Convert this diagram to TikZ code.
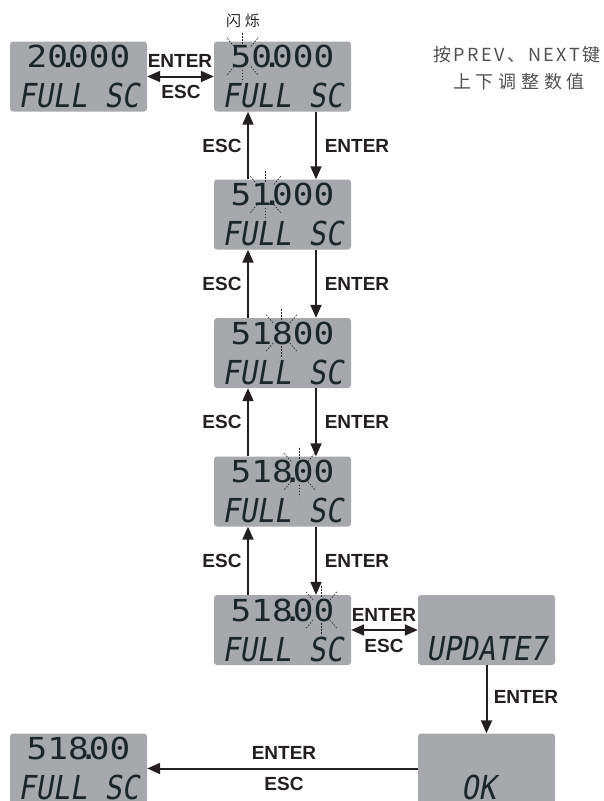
\documentclass[tikz,border=0pt]{standalone}
\usepackage{fontspec}
\usepackage{graphicx}
\usetikzlibrary{arrows.meta,calc}
\setmainfont{Liberation Sans}
\newfontfamily\lcdfont{DejaVu Sans Mono}
\newfontfamily\lcdslant{DejaVu Sans Mono}[FakeSlant=0.2]
\newfontfamily\cjkA{Noto Sans CJK SC}[LetterSpace=14]
\newfontfamily\cjkB{Noto Sans CJK SC}[LetterSpace=26]
\definecolor{lcdbg}{RGB}{166,168,171}
\definecolor{lcdink}{RGB}{28,38,40}
\definecolor{arrowc}{RGB}{35,31,32}
\definecolor{notec}{RGB}{80,80,80}
\newcommand{\topdigits}[1]{\scalebox{1}[0.88]{\fontsize{34.4pt}{34.4pt}\lcdfont #1}}
\newcommand{\lcddot}{\makebox[0pt]{.}}
\newcommand{\botline}[1]{\scalebox{1}[1.15]{\fontsize{28.7pt}{28.7pt}\lcdslant #1}}
\newcommand{\blinkmark}[1]{\foreach \a in {50,90,130,230,270,310}{\draw[blinkray] ($(#1)+(\a:13)$) -- ($(#1)+(\a:25)$);}}
\begin{document}
\begin{tikzpicture}[x=1pt,y=-1pt,
  lcd/.style={draw=none, fill=lcdbg, rounded corners=3pt, minimum width=137pt, minimum height=70pt, inner sep=0pt},
  digtxt/.style={inner sep=0pt, text=lcdink},
  arr/.style={draw=arrowc, line width=2pt, -{Triangle[length=13pt,width=11pt]}},
  darr/.style={draw=arrowc, line width=2pt, {Triangle[length=13pt,width=11pt]}-{Triangle[length=13pt,width=11pt]}},
  keylab/.style={font=\fontsize{19pt}{19pt}\selectfont\bfseries, text=arrowc, inner sep=0pt},
  blinkray/.style={draw=lcdink, line width=0.6pt, dash pattern=on 1.6pt off 1.4pt}]
\useasboundingbox (0,0) rectangle (603,801);
\clip (0,0) rectangle (603,801);
% displays
\node[lcd] (A) at (78.5,76.5) {};
\node[lcd] (B) at (282.5,76.5) {};
\node[lcd] (C) at (282.5,214.5) {};
\node[lcd] (D) at (282.5,353) {};
\node[lcd] (E) at (282.5,491.5) {};
\node[lcd] (F) at (282.5,630) {};
\node[lcd] (G) at (486.5,630) {};
\node[lcd] (H) at (486.5,768.5) {};
\node[lcd] (I) at (78.5,768.5) {};
% display texts
\node[digtxt] (At) at ($(A.center)+(0,-20)$) {\topdigits{20\lcddot000}};
\node[digtxt] (Ab) at ($(A.center)+(0,19)$) {\botline{FULL SC}};
\node[digtxt] (Bt) at ($(B.center)+(0,-20)$) {\topdigits{50\lcddot000}};
\node[digtxt] (Bb) at ($(B.center)+(0,19)$) {\botline{FULL SC}};
\node[digtxt] (Ct) at ($(C.center)+(0,-20)$) {\topdigits{51\lcddot000}};
\node[digtxt] (Cb) at ($(C.center)+(0,19)$) {\botline{FULL SC}};
\node[digtxt] (Dt) at ($(D.center)+(0,-20)$) {\topdigits{51800}};
\node[digtxt] (Db) at ($(D.center)+(0,19)$) {\botline{FULL SC}};
\node[digtxt] (Et) at ($(E.center)+(0,-20)$) {\topdigits{518\lcddot00}};
\node[digtxt] (Eb) at ($(E.center)+(0,19)$) {\botline{FULL SC}};
\node[digtxt] (Ft) at ($(F.center)+(0,-20)$) {\topdigits{518\lcddot00}};
\node[digtxt] (Fb) at ($(F.center)+(0,19)$) {\botline{FULL SC}};
\node[digtxt] (Gb) at ($(G.center)+(0,19)$) {\botline{UPDATE7}};
\node[digtxt] (Hb) at ($(H.center)+(-8,19)$) {\botline{OK}};
\node[digtxt] (It) at ($(I.center)+(0,-20)$) {\topdigits{518\lcddot00}};
\node[digtxt] (Ib) at ($(I.center)+(0,19)$) {\botline{FULL SC}};
% blinking marks
\coordinate (bB) at ($(B.center)+(-40,-20)$);
\coordinate (bC) at ($(C.center)+(-17,-20)$);
\coordinate (bD) at ($(D.center)+(-1,-20)$);
\coordinate (bE) at ($(E.center)+(17,-20)$);
\coordinate (bF) at ($(F.center)+(39,-20)$);
\blinkmark{bB}
\blinkmark{bC}
\blinkmark{bD}
\blinkmark{bE}
\blinkmark{bF}
\node[text=arrowc, inner sep=0pt, font=\fontsize{15pt}{15pt}\cjkB] (flash) at (243,21) {闪烁};
% note
\node[text=notec, inner sep=0pt, font=\fontsize{18pt}{18pt}\cjkA] (note1) at (517,55) {按PREV、NEXT键};
\node[text=notec, inner sep=0pt, font=\fontsize{18pt}{18pt}\cjkB] (note2) at (519,82) {上下调整数值};
% connectors
\draw[darr] (A.east) -- (B.west);
\node[keylab] (lab1) at (180,61) {ENTER};
\node[keylab] (lab2) at (181,92) {ESC};
\draw[arr] ([xshift=33.5pt]B.south) -- ([xshift=33.5pt]C.north);
\draw[arr] ([xshift=-34.5pt]C.north) -- ([xshift=-34.5pt]B.south);
\node[keylab] (lab3) at (357,145.5) {ENTER};
\node[keylab] (lab4) at (222,145.5) {ESC};
\draw[arr] ([xshift=33.5pt]C.south) -- ([xshift=33.5pt]D.north);
\draw[arr] ([xshift=-34.5pt]D.north) -- ([xshift=-34.5pt]C.south);
\node[keylab] (lab5) at (357,284) {ENTER};
\node[keylab] (lab6) at (222,284) {ESC};
\draw[arr] ([xshift=33.5pt]D.south) -- ([xshift=33.5pt]E.north);
\draw[arr] ([xshift=-34.5pt]E.north) -- ([xshift=-34.5pt]D.south);
\node[keylab] (lab7) at (357,422) {ENTER};
\node[keylab] (lab8) at (222,422) {ESC};
\draw[arr] ([xshift=33.5pt]E.south) -- ([xshift=33.5pt]F.north);
\draw[arr] ([xshift=-34.5pt]F.north) -- ([xshift=-34.5pt]E.south);
\node[keylab] (lab9) at (357,561) {ENTER};
\node[keylab] (lab10) at (222,561) {ESC};
\draw[darr] (F.east) -- (G.west);
\node[keylab] (lab11) at (384,615) {ENTER};
\node[keylab] (lab12) at (384,646) {ESC};
\draw[arr] (G.south) -- (H.north);
\node[keylab] (lab13) at (526,697) {ENTER};
\draw[arr] (H.west) -- (I.east);
\node[keylab] (lab14) at (284,753) {ENTER};
\node[keylab] (lab15) at (284,784) {ESC};
\end{tikzpicture}
\end{document}
